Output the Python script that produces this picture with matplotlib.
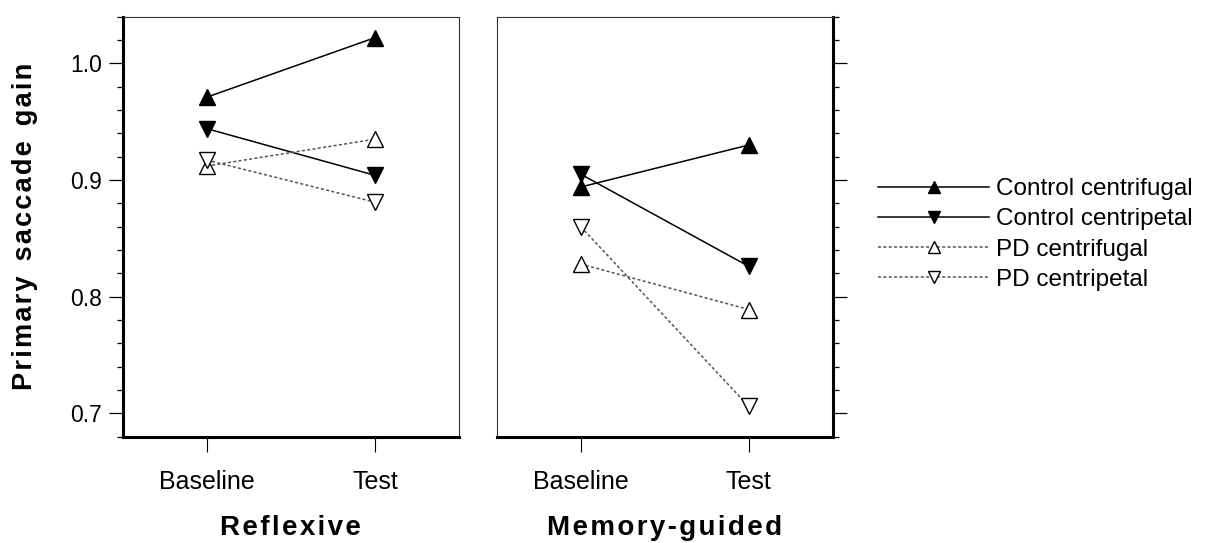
import numpy as np
import matplotlib.pyplot as plt
from matplotlib.ticker import MultipleLocator
from matplotlib.lines import Line2D

plt.rcParams['font.family'] = ['Liberation Sans', 'DejaVu Sans']

conditions = ['Baseline', 'Test']
series_names = ['Control centrifugal', 'Control centripetal', 'PD centrifugal', 'PD centripetal']

# reflexive saccades
refl_ctrl_cf = [0.971, 1.022]
refl_ctrl_cp = [0.944, 0.904]
refl_pd_cf = [0.912, 0.935]
refl_pd_cp = [0.917, 0.881]

# memory-guided saccades
mem_ctrl_cf = [0.894, 0.930]
mem_ctrl_cp = [0.905, 0.826]
mem_pd_cf = [0.828, 0.789]
mem_pd_cp = [0.860, 0.706]

styles = [
    dict(marker='^', ls='-', color='black', mfc='black'),
    dict(marker='v', ls='-', color='black', mfc='black'),
    dict(marker='^', ls=(0, (2, 1.5)), color='#555555', mfc='white'),
    dict(marker='v', ls=(0, (2, 1.5)), color='#555555', mfc='white'),
]

def spaced(s):
    # letter spacing with hair spaces
    return '\u200a'.join(s)

fig = plt.figure(figsize=(12.19, 5.43), dpi=100)
ax1 = fig.add_axes([0.1007, 0.1958, 0.2759, 0.7735])
ax2 = fig.add_axes([0.4075, 0.1958, 0.2756, 0.7735])

x = np.arange(len(conditions))
panels = [(ax1, [refl_ctrl_cf, refl_ctrl_cp, refl_pd_cf, refl_pd_cp], 'Reflexive'),
          (ax2, [mem_ctrl_cf, mem_ctrl_cp, mem_pd_cf, mem_pd_cp], 'Memory-guided')]

for ax, data, title in panels:
    for vals, st in zip(data, styles):
        ax.plot(x, vals, linestyle=st['ls'], color=st['color'], lw=1.1,
                marker=st['marker'], markersize=11.5, mfc=st['mfc'],
                mec='black', mew=1.0)
    ax.set_xlim(-0.5, 1.5)
    ax.set_ylim(0.68, 1.04)
    ax.set_xticks(x)
    ax.set_xticklabels(conditions, fontsize=18)
    ax.tick_params(axis='x', direction='out', length=11, width=0.8, pad=13)
    ax.yaxis.set_major_locator(MultipleLocator(0.1))
    ax.yaxis.set_minor_locator(MultipleLocator(0.02))
    ax.tick_params(axis='y', which='major', direction='out', length=10, width=0.9,
                   labelsize=16.5, pad=5)
    ax.tick_params(axis='y', which='minor', direction='out', length=4.5, width=0.9)
    ax.set_xlabel(spaced(title), fontsize=20, fontweight='bold', labelpad=15)
    for sp in ax.spines.values():
        sp.set_linewidth(0.8)
        sp.set_color('#333333')
    ax.spines['bottom'].set_linewidth(2.2)
    ax.spines['bottom'].set_color('black')

ax1.spines['left'].set_linewidth(2.2)
ax1.spines['left'].set_color('black')
ax1.yaxis.set_major_formatter(plt.FuncFormatter(lambda v, p: f'{v:.1f}'))
ax1.set_ylabel(spaced('Primary') + '  ' + spaced('saccade') + '  ' + spaced('gain'),
               fontsize=19.5, fontweight='bold', labelpad=23)

ax2.spines['right'].set_linewidth(2.2)
ax2.spines['right'].set_color('black')
ax2.yaxis.tick_right()
ax2.tick_params(axis='y', which='both', labelright=False)

handles = [Line2D([], [], linestyle=st['ls'], color=st['color'], lw=1.1,
                  marker=st['marker'], markersize=8, mfc=st['mfc'],
                  mec='black', mew=1.0) for st in styles]
fig.legend(handles, series_names, loc='center left', bbox_to_anchor=(0.720, 0.568),
           frameon=False, fontsize=17.5, handlelength=4.6, handletextpad=0.25,
           labelspacing=0.34, borderpad=0, borderaxespad=0)

fig.savefig('out.png', dpi=100)
